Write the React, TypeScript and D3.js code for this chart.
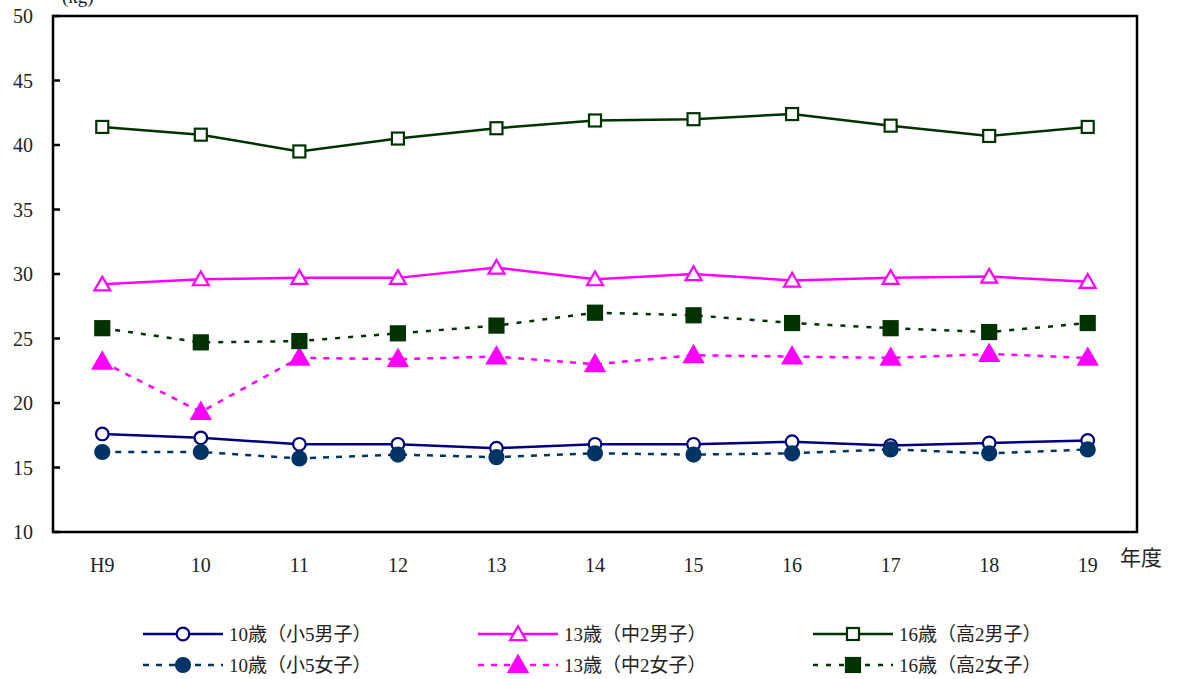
import React from "react";
import * as d3 from "d3";

const categories = ["H9", "10", "11", "12", "13", "14", "15", "16", "17", "18", "19"];
const yTicks = [10, 15, 20, 25, 30, 35, 40, 45, 50];

const boys10 = [17.6, 17.3, 16.8, 16.8, 16.5, 16.8, 16.8, 17.0, 16.7, 16.9, 17.1];
const girls10 = [16.2, 16.2, 15.7, 16.0, 15.8, 16.1, 16.0, 16.1, 16.4, 16.1, 16.4];
const boys13 = [29.2, 29.6, 29.7, 29.7, 30.5, 29.6, 30.0, 29.5, 29.7, 29.8, 29.4];
const girls13 = [23.2, 19.3, 23.5, 23.4, 23.6, 23.0, 23.7, 23.6, 23.5, 23.8, 23.5];
const boys16 = [41.4, 40.8, 39.5, 40.5, 41.3, 41.9, 42.0, 42.4, 41.5, 40.7, 41.4];
const girls16 = [25.8, 24.7, 24.8, 25.4, 26.0, 27.0, 26.8, 26.2, 25.8, 25.5, 26.2];

const seriesNames = [
  "10歳（小5男子）",
  "13歳（中2男子）",
  "16歳（高2男子）",
  "10歳（小5女子）",
  "13歳（中2女子）",
  "16歳（高2女子）",
];

type Marker = "circle" | "triangle" | "square";
interface S {
  name: string;
  values: number[];
  color: string;
  dash: string | undefined;
  marker: Marker;
  filled: boolean;
}

const series: S[] = [
  { name: seriesNames[0], values: boys10, color: "#000080", dash: undefined, marker: "circle", filled: false },
  { name: seriesNames[1], values: boys13, color: "#FF00FF", dash: undefined, marker: "triangle", filled: false },
  { name: seriesNames[2], values: boys16, color: "#003300", dash: undefined, marker: "square", filled: false },
  { name: seriesNames[3], values: girls10, color: "#003366", dash: "6,7", marker: "circle", filled: true },
  { name: seriesNames[4], values: girls13, color: "#FF00FF", dash: "6,7", marker: "triangle", filled: true },
  { name: seriesNames[5], values: girls16, color: "#003300", dash: "5,8", marker: "square", filled: true },
];

const W = 1177;
const H = 679;
const left = 53;
const right = 1137;
const top = 16;
const bottom = 532;
const serif = "'Liberation Serif', 'DejaVu Serif', 'Noto Sans CJK JP', serif";
const cjk = "'Liberation Serif', 'Noto Sans CJK JP', serif";

function MarkerShape({ m, x, y, color, filled }: { m: Marker; x: number; y: number; color: string; filled: boolean }) {
  const fill = filled ? color : "#fff";
  const sw = 2.2;
  if (m === "circle") {
    return <circle cx={x} cy={y} r={filled ? 7 : 6.3} fill={fill} stroke={color} strokeWidth={sw} />;
  }
  if (m === "triangle") {
    const sym = d3.symbol().type(d3.symbolTriangle).size(filled ? 150 : 110)();
    return <path d={sym || ""} transform={`translate(${x},${y + 1.5})`} fill={fill} stroke={color} strokeWidth={sw} />;
  }
  const s = filled ? 14 : 12;
  return <rect x={x - s / 2} y={y - s / 2} width={s} height={s} fill={fill} stroke={color} strokeWidth={sw} />;
}

export default function App() {
  const x = d3.scalePoint<string>().domain(categories).range([left, right]).padding(0.5);
  const y = d3.scaleLinear().domain([10, 50]).range([bottom, top]);
  const line = d3
    .line<number>()
    .x((_, i) => x(categories[i]) as number)
    .y((d) => y(d));

  const legendCols = [143, 478, 813];
  const legendRows = [634, 665];

  return (
    <svg width={W} height={H} style={{ position: "absolute", left: 0, top: 0, background: "#fff" }}>
      <text x={62} y={3} fontFamily={cjk} fontSize={19} fill="#222">(kg)</text>
      {yTicks.map((t) => (
        <g key={t}>
          <line x1={left} x2={left + 7} y1={y(t)} y2={y(t)} stroke="#000" strokeWidth={2.5} />
          <text x={33} y={y(t)} textAnchor="end" dominantBaseline="central" fontFamily={serif} fontSize={20} fill="#222">
            {t}
          </text>
        </g>
      ))}
      {categories.map((c) => (
        <text key={c} x={x(c)} y={565} textAnchor="middle" dominantBaseline="central" fontFamily={serif} fontSize={20} fill="#222">
          {c}
        </text>
      ))}
      <text x={1120} y={558} dominantBaseline="central" fontFamily={cjk} fontSize={21} fill="#222">年度</text>

      {series.map((s) => (
        <g key={s.name}>
          <path d={line(s.values) || ""} fill="none" stroke={s.color} strokeWidth={2.5} strokeDasharray={s.dash} />
          {s.values.map((v, i) => (
            <MarkerShape key={i} m={s.marker} x={x(categories[i]) as number} y={y(v)} color={s.color} filled={s.filled} />
          ))}
        </g>
      ))}

      <rect x={left} y={top} width={right - left} height={bottom - top} fill="none" stroke="#000" strokeWidth={2.5} />

      {series.map((s, i) => {
        const lx = legendCols[i % 3];
        const ly = legendRows[Math.floor(i / 3)];
        return (
          <g key={"lg" + s.name}>
            <line x1={lx} x2={lx + 80} y1={ly} y2={ly} stroke={s.color} strokeWidth={2.5} strokeDasharray={s.dash} />
            <MarkerShape m={s.marker} x={lx + 40} y={ly} color={s.color} filled={s.filled} />
            <text x={lx + 86} y={ly} dominantBaseline="central" fontFamily={cjk} fontSize={19} fill="#222">
              {s.name}
            </text>
          </g>
        );
      })}
    </svg>
  );
}
